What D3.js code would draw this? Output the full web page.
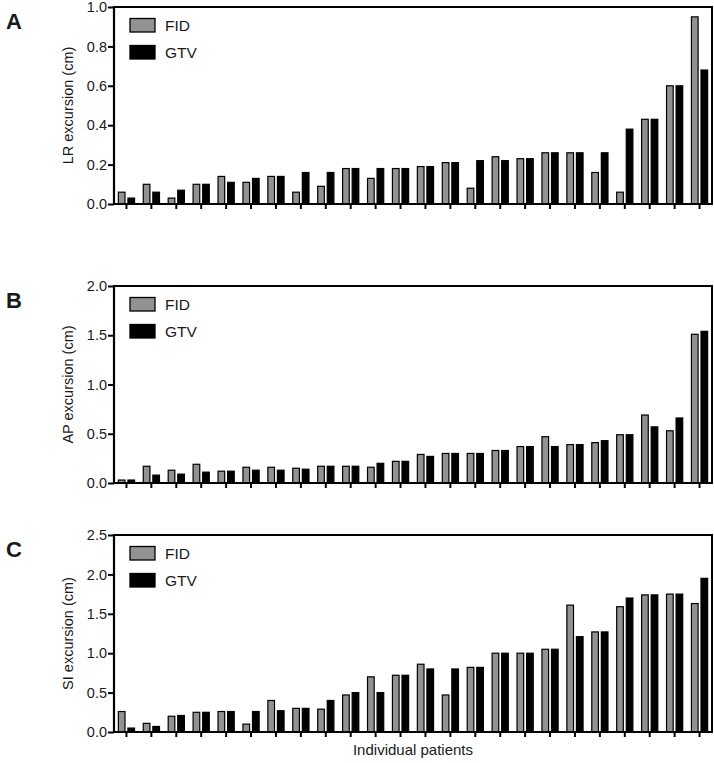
<!DOCTYPE html>
<html>
<head>
<meta charset="utf-8">
<script src="https://cdn.jsdelivr.net/npm/d3@7/dist/d3.min.js"></script>
<style>
  html, body { margin: 0; padding: 0; background: #fff; }
  svg { display: block; }
  text { font-family: "Liberation Sans", Arial, sans-serif; fill: #1a1a1a; }
</style>
</head>
<body>
<svg id="chart" width="714" height="763"></svg>
<script>
// ---- data ----
const patients = ["1","2","3","4","5","6","7","8","9","10","11","12","13","14","15","16","17","18","19","20","21","22","23","24"];
const seriesNames = ["FID", "GTV"];

const lrFID = [0.06,0.10,0.03,0.10,0.14,0.11,0.14,0.06,0.09,0.18,0.13,0.18,0.19,0.21,0.08,0.24,0.23,0.26,0.26,0.16,0.06,0.43,0.60,0.95];
const lrGTV = [0.03,0.06,0.07,0.10,0.11,0.13,0.14,0.16,0.16,0.18,0.18,0.18,0.19,0.21,0.22,0.22,0.23,0.26,0.26,0.26,0.38,0.43,0.60,0.68];

const apFID = [0.03,0.17,0.13,0.19,0.12,0.16,0.16,0.15,0.17,0.17,0.16,0.22,0.29,0.30,0.30,0.33,0.37,0.47,0.39,0.41,0.49,0.69,0.53,1.51];
const apGTV = [0.03,0.08,0.09,0.11,0.12,0.13,0.13,0.14,0.17,0.17,0.20,0.22,0.27,0.30,0.30,0.33,0.37,0.37,0.39,0.43,0.49,0.57,0.66,1.54];

const siFID = [0.26,0.11,0.20,0.25,0.26,0.10,0.40,0.30,0.29,0.47,0.70,0.72,0.86,0.47,0.82,1.00,1.00,1.05,1.61,1.27,1.59,1.74,1.75,1.63];
const siGTV = [0.05,0.07,0.21,0.25,0.26,0.26,0.27,0.30,0.40,0.50,0.50,0.72,0.80,0.80,0.82,1.00,1.00,1.05,1.21,1.27,1.70,1.74,1.75,1.95];

const lrTicks = [0.0,0.2,0.4,0.6,0.8,1.0];
const apTicks = [0.0,0.5,1.0,1.5,2.0];
const siTicks = [0.0,0.5,1.0,1.5,2.0,2.5];

const panelLetters = ["A","B","C"];
const yLabels = ["LR excursion (cm)","AP excursion (cm)","SI excursion (cm)"];
const xLabel = "Individual patients";

// ---- layout ----
const svg = d3.select("#chart");
const left = 114, right = 712, plotH = 197;
const panelTops = [7, 286, 535];
const colors = { FID: "#929292", GTV: "#000000" };

const panels = [
  { letter: panelLetters[0], ylab: yLabels[0], fid: lrFID, gtv: lrGTV, ticks: lrTicks, max: 1.0 },
  { letter: panelLetters[1], ylab: yLabels[1], fid: apFID, gtv: apGTV, ticks: apTicks, max: 2.0 },
  { letter: panelLetters[2], ylab: yLabels[2], fid: siFID, gtv: siGTV, ticks: siTicks, max: 2.5 }
];

const x0 = d3.scaleBand().domain(patients).range([left, right]).padding(0);
const bw = x0.bandwidth();
const x1 = d3.scaleBand().domain(seriesNames)
  .range([bw / 2 - 8.6, bw / 2 + 8.6]).paddingInner(0.2).paddingOuter(0);

panels.forEach((p, i) => {
  const top = panelTops[i];
  const bottom = top + plotH;
  const y = d3.scaleLinear().domain([0, p.max]).range([bottom, top]);
  const g = svg.append("g");

  // frame (top + right)
  g.append("line").attr("x1", left).attr("x2", right).attr("y1", top).attr("y2", top)
    .attr("stroke", "#000").attr("stroke-width", 2);
  g.append("line").attr("x1", right).attr("x2", right).attr("y1", top - 1).attr("y2", bottom)
    .attr("stroke", "#000").attr("stroke-width", 2);

  // bars
  const rows = patients.map((pt, k) => ({ pt, vals: [
    { s: "FID", v: p.fid[k] }, { s: "GTV", v: p.gtv[k] } ] }));
  const grp = g.selectAll("g.pt").data(rows).join("g")
    .attr("transform", d => `translate(${x0(d.pt)},0)`);
  grp.selectAll("rect").data(d => d.vals).join("rect")
    .attr("x", d => x1(d.s) + 0.5)
    .attr("width", x1.bandwidth() - 1)
    .attr("y", d => y(d.v))
    .attr("height", d => y(0) - y(d.v))
    .attr("fill", d => colors[d.s])
    .attr("stroke", "#000").attr("stroke-width", 1.2);

  // y axis
  const yAxis = d3.axisLeft(y).tickValues(p.ticks).tickFormat(d3.format(".1f"))
    .tickSize(6).tickPadding(1);
  const ya = g.append("g").attr("transform", `translate(${left},0)`).call(yAxis);
  ya.select(".domain").attr("stroke-width", 2.2).attr("d", `M0,${top - 1}V${bottom + 1}`);
  ya.selectAll(".tick line").attr("stroke-width", 2);
  ya.selectAll(".tick text").attr("font-size", 14.5).attr("fill", "#2a2a2a")
    .attr("font-family", "Liberation Sans, Arial, sans-serif");

  // x axis
  const xAxis = d3.axisBottom(x0).tickSize(5).tickFormat("");
  const xa = g.append("g").attr("transform", `translate(0,${bottom})`).call(xAxis);
  xa.select(".domain").attr("stroke-width", 2.2).attr("d", `M${left - 1},0H${right + 1}`);
  xa.selectAll(".tick line").attr("stroke-width", 2);

  // y label
  g.append("text")
    .attr("transform", `translate(73,${(top + bottom) / 2}) rotate(-90)`)
    .attr("text-anchor", "middle")
    .attr("font-size", 14.5)
    .attr("fill", "#2a2a2a")
    .text(p.ylab);

  // panel letter
  g.append("text").attr("x", 6).attr("y", top + 22)
    .attr("font-size", 22).attr("font-weight", "bold")
    .attr("font-family", "Open Sans, Liberation Sans, sans-serif")
    .text(p.letter);

  // legend
  const lg = g.append("g").attr("transform", `translate(130,${top + 11.5})`);
  seriesNames.forEach((s, j) => {
    lg.append("rect").attr("x", 0).attr("y", j * 27).attr("width", 25).attr("height", 13.5)
      .attr("fill", colors[s]).attr("stroke", "#000").attr("stroke-width", 1.3);
    lg.append("text").attr("x", 35).attr("y", j * 27 + 12.5)
      .attr("font-size", 15.5).text(s);
  });
});

// x label
svg.append("text").attr("x", 413).attr("y", 755).attr("text-anchor", "middle")
  .attr("font-size", 15).text(xLabel);
</script>
</body>
</html>
